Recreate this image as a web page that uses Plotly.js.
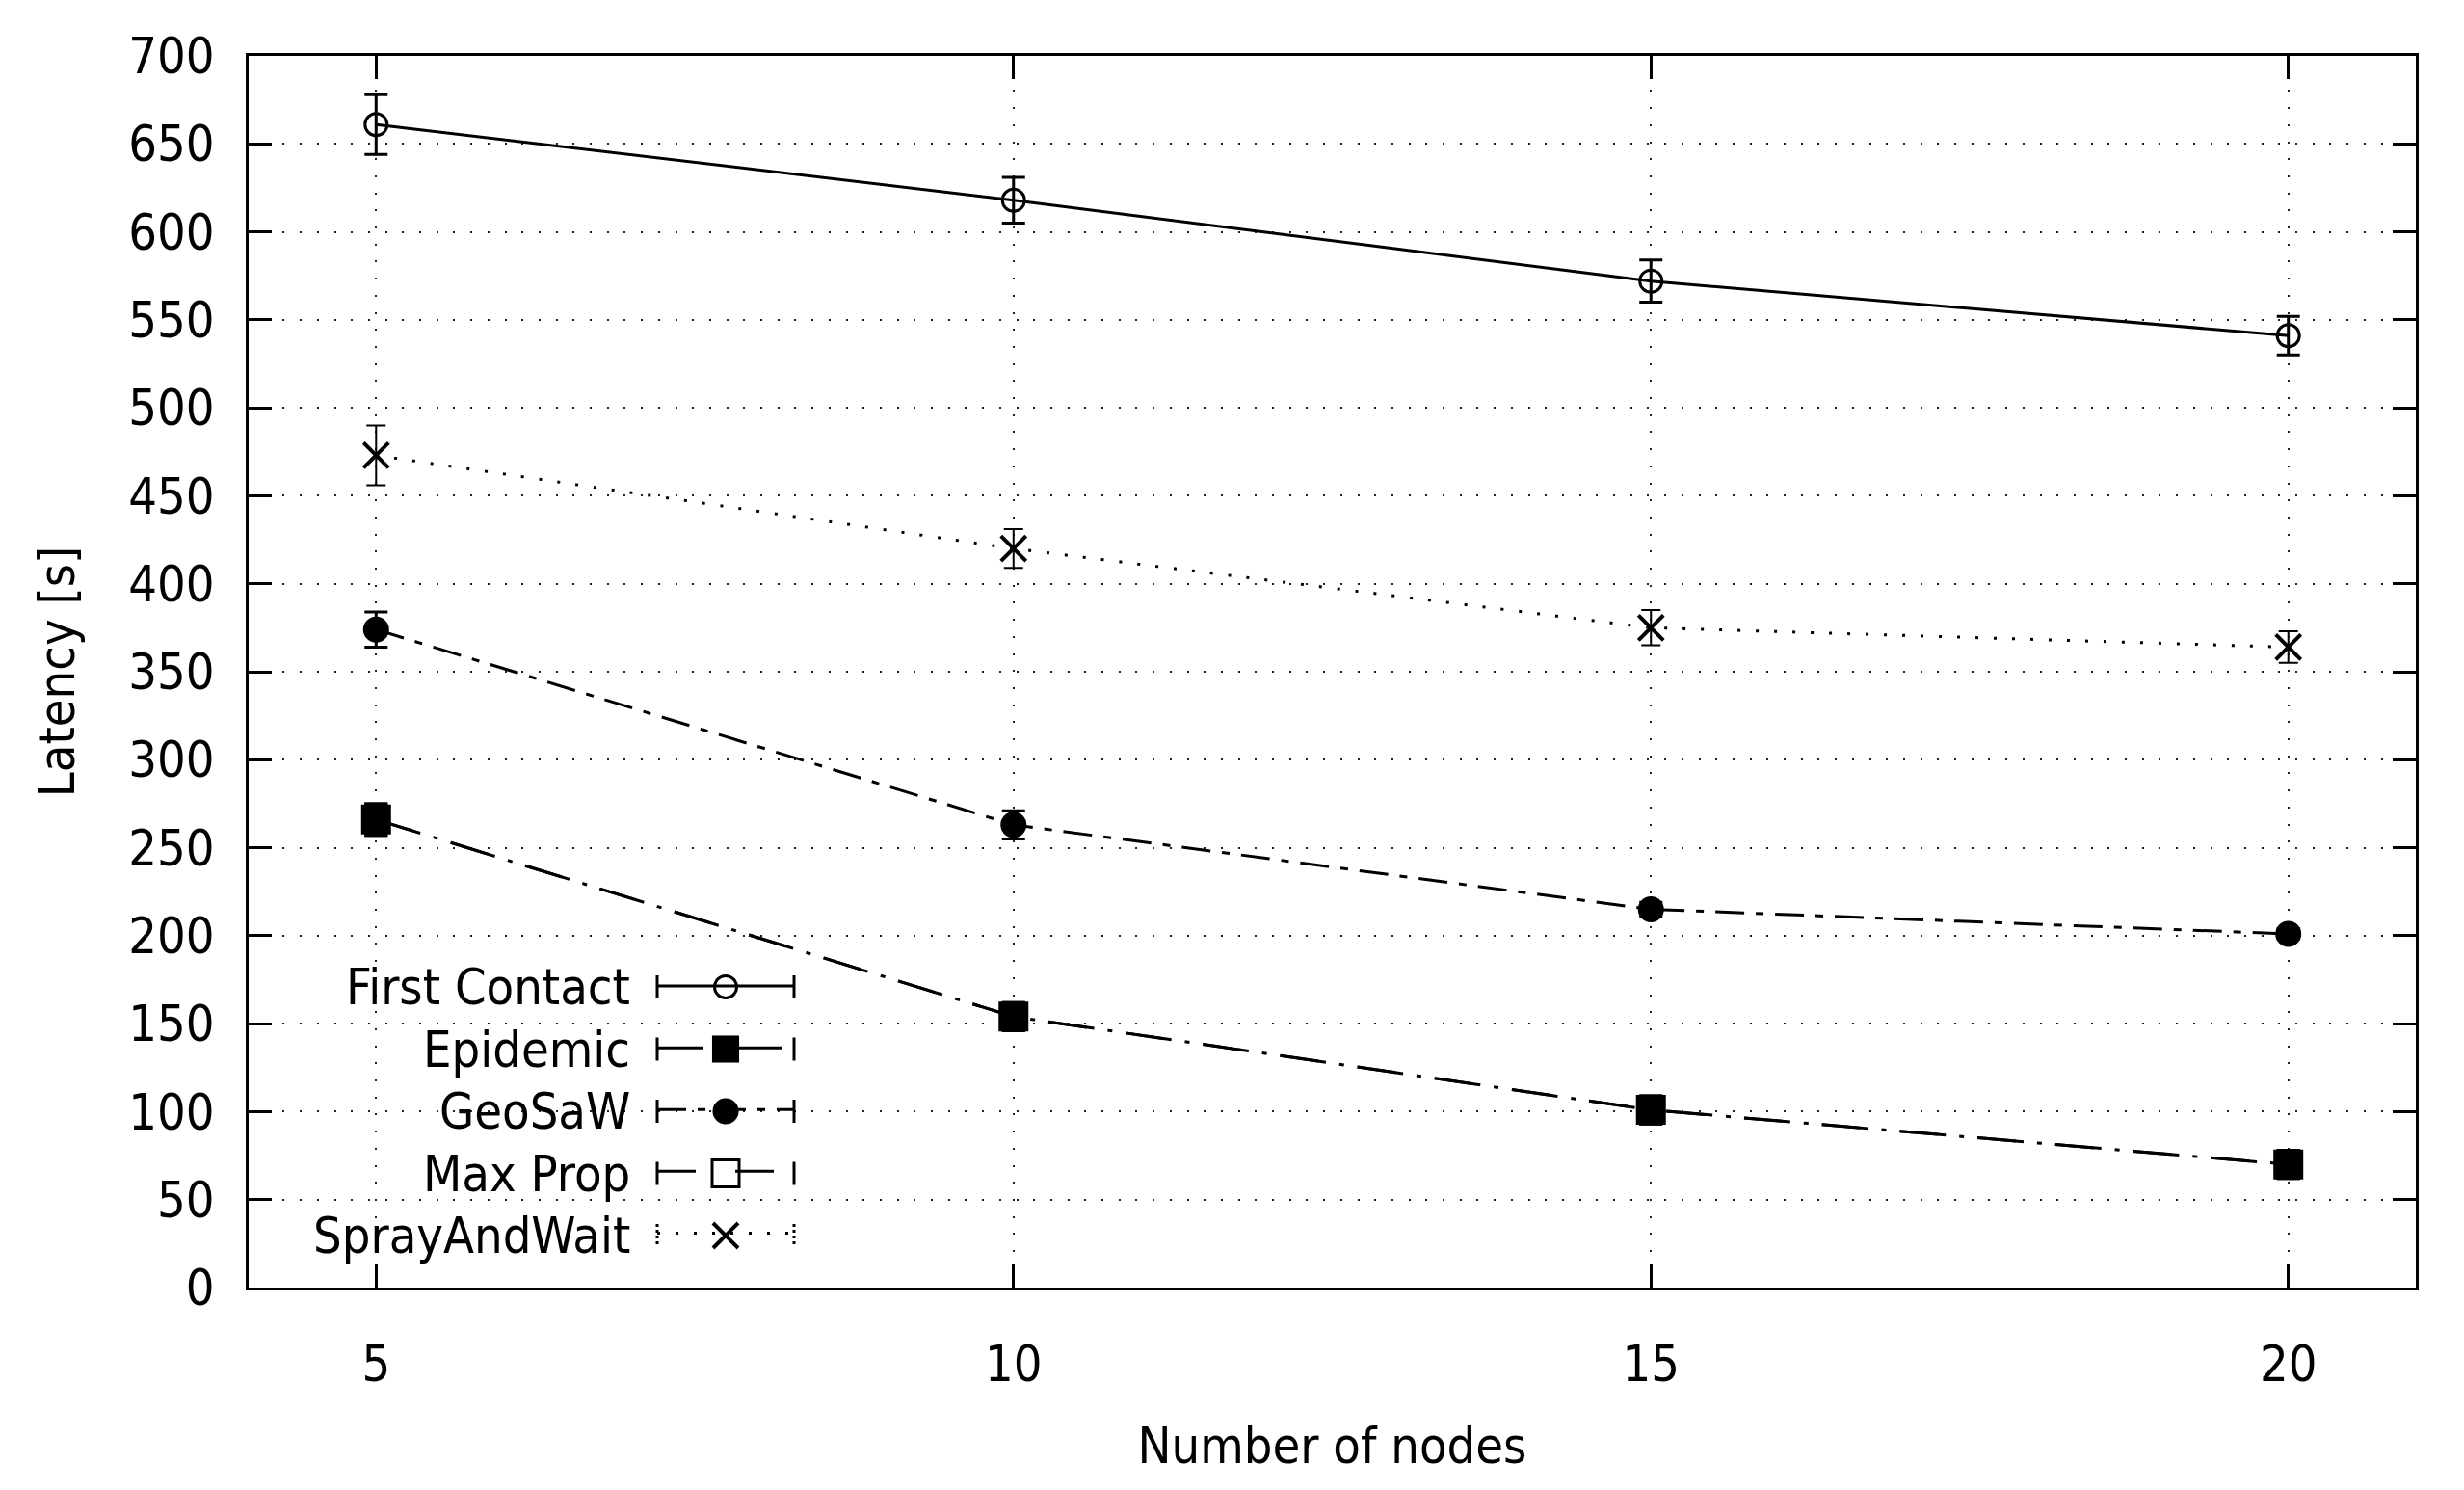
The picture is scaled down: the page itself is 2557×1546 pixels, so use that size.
<!DOCTYPE html>
<html><head><meta charset="utf-8">
<script src="https://cdn.plot.ly/plotly-3.0.1.min.js"></script>
<style>html,body{margin:0;padding:0;background:#fff;}</style>
</head><body>
<div id="chart" style="width:2557px;height:1546px;"></div>
<script>
// ---- data ----
const nodes = [5, 10, 15, 20];
const seriesNames = ['First Contact', 'Epidemic', 'GeoSaW', 'Max Prop', 'SprayAndWait'];
const firstContact = [661, 618, 572, 541];
const firstContactErr = [17, 13, 12, 11];
const epidemic = [266, 154, 101, 70];
const epidemicErr = [9, 8, 8, 8];
const geoSaW = [374, 263, 215, 201];
const geoSaWErr = [10, 8, 4, 3];
const maxProp = [266, 154, 101, 70];
const maxPropErr = [9, 8, 8, 8];
const sprayAndWait = [473, 420, 375, 364];
const sprayAndWaitErr = [17, 11, 10, 9];
const xTickVals = [5, 10, 15, 20];
const yTickVals = [0, 50, 100, 150, 200, 250, 300, 350, 400, 450, 500, 550, 600, 650, 700];
const xTitle = 'Number of nodes';
const yTitle = 'Latency [s]';

// ---- styling ----
const W = 2557, H = 1546;
const M = {l: 258, r: 50, t: 58, b: 210};
const PW = W - M.l - M.r, PH = H - M.t - M.b;
const FONT = '"DejaVu Sans Condensed", "Liberation Sans", sans-serif';
const px2x = px => (px - M.l) / PW;
const py2y = py => (M.t + PH - py) / PH;

const styles = [
  {dash: 'solid', symbol: 'circle-open', size: 23, lw: 3, eth: 3, ew: 12},
  {dash: '48px,14px,5px,14px', symbol: 'square', size: 28, lw: 0, eth: 3, ew: 12},
  {dash: '30px,12px,8px,12px', symbol: 'circle', size: 27, lw: 0, eth: 3, ew: 12},
  {dash: '40px,41px', symbol: 'square-open', size: 28, lw: 3, eth: 3, ew: 12},
  {dash: '3px,16px', symbol: 'x-thin-open', size: 26, lw: 4, eth: 2, ew: 10}
];
const ys = [firstContact, epidemic, geoSaW, maxProp, sprayAndWait];
const errs = [firstContactErr, epidemicErr, geoSaWErr, maxPropErr, sprayAndWaitErr];

const traces = ys.map((y, i) => ({
  x: nodes, y: y, type: 'scatter', mode: 'lines+markers',
  name: seriesNames[i], showlegend: false,
  hovertemplate: seriesNames[i] + ': %{y}<extra></extra>',
  line: {color: '#000', width: 3, dash: styles[i].dash},
  marker: {symbol: styles[i].symbol, size: styles[i].size, color: '#000',
           line: {color: '#000', width: styles[i].lw}},
  error_y: {type: 'data', array: errs[i], visible: true, color: '#000',
            thickness: styles[i].eth, width: styles[i].ew}
}));
// legend-only entries (line samples); key markers drawn full size below
const legendTraces = seriesNames.map((n, i) => ({
  x: [null], y: [null], type: 'scatter', mode: 'lines', name: '',
  showlegend: true, hoverinfo: 'skip',
  line: {color: '#000', width: 3, dash: styles[i].dash}
}));

// legend geometry (key box like gnuplot: text right-aligned, sample to the right)
const rowY0 = 1024, rowStep = 64.5;
const textRight = 656, sampleL = 682, sampleR = 824;
const markX = sampleL - 5 + (sampleR - sampleL + 10) / 2;
const annotations = seriesNames.map((n, i) => ({
  xref: 'paper', yref: 'paper', x: px2x(textRight), y: py2y(rowY0 + i * rowStep),
  xanchor: 'right', yanchor: 'middle', text: n, showarrow: false,
  font: {family: FONT, size: 52, color: '#000'}
}));
const shapes = [{
  type: 'rect', xref: 'paper', yref: 'paper', layer: 'between',
  x0: 0, x1: px2x(850), y0: py2y(1311), y1: py2y(990),
  fillcolor: '#fff', line: {width: 0}
}];
const box = (cx, cy, h) => ({x0: px2x(cx - h), x1: px2x(cx + h), y0: py2y(cy + h), y1: py2y(cy - h)});
seriesNames.forEach((n, i) => {
  const cy = rowY0 + i * rowStep;
  [sampleL, sampleR].forEach(cx => {
    shapes.push({type: 'line', xref: 'paper', yref: 'paper',
      x0: px2x(cx), x1: px2x(cx), y0: py2y(cy - 12), y1: py2y(cy + 12),
      line: {color: '#000', width: 3, dash: i === 4 ? 'dot' : 'solid'}});
  });
  const st = styles[i], h = st.size / 2;
  if (st.symbol === 'circle-open' || st.symbol === 'circle') {
    shapes.push(Object.assign({type: 'circle', xref: 'paper', yref: 'paper', layer: 'above',
      fillcolor: st.symbol === 'circle' ? '#000' : 'rgba(0,0,0,0)',
      line: {color: '#000', width: st.lw || 0.1}}, box(markX, cy, h)));
  } else if (st.symbol === 'square' || st.symbol === 'square-open') {
    shapes.push(Object.assign({type: 'rect', xref: 'paper', yref: 'paper', layer: 'above',
      fillcolor: st.symbol === 'square' ? '#000' : 'rgba(0,0,0,0)',
      line: {color: '#000', width: st.lw || 0.1}}, box(markX, cy, h)));
  } else {
    const b = box(markX, cy, h);
    shapes.push({type: 'line', xref: 'paper', yref: 'paper', layer: 'above',
      x0: b.x0, x1: b.x1, y0: b.y0, y1: b.y1, line: {color: '#000', width: st.lw}});
    shapes.push({type: 'line', xref: 'paper', yref: 'paper', layer: 'above',
      x0: b.x0, x1: b.x1, y0: b.y1, y1: b.y0, line: {color: '#000', width: st.lw}});
  }
});

const axisCommon = {
  showline: true, linecolor: '#000', linewidth: 3, mirror: 'ticks',
  ticks: 'inside', ticklen: 24, tickwidth: 3, tickcolor: '#000',
  showgrid: true, gridcolor: '#222', gridwidth: 2, griddash: '2px,15.7px',
  zeroline: false, tickfont: {family: FONT, size: 52, color: '#000'}
};

const layout = {
  width: W, height: H, margin: M,
  paper_bgcolor: '#fff', plot_bgcolor: '#fff',
  font: {family: FONT, color: '#000'},
  showlegend: true,
  legend: {x: px2x(sampleL - 5), xanchor: 'left', y: py2y(rowY0 - 38), yanchor: 'top',
           itemwidth: sampleR - sampleL, bgcolor: 'rgba(0,0,0,0)', borderwidth: 0,
           font: {family: FONT, size: 47}, traceorder: 'normal'},
  xaxis: Object.assign({}, axisCommon, {
    range: [4, 21], tickmode: 'array', tickvals: xTickVals,
    ticklabelstandoff: 32,
    title: {text: xTitle, font: {family: FONT, size: 52}, standoff: 38}
  }),
  yaxis: Object.assign({}, axisCommon, {
    range: [0, 700], tickmode: 'array', tickvals: yTickVals,
    ticklabelstandoff: 22,
    title: {text: yTitle, font: {family: FONT, size: 52}, standoff: 40}
  }),
  annotations: annotations,
  shapes: shapes
};

Plotly.newPlot('chart', traces.concat(legendTraces), layout, {displayModeBar: false, staticPlot: true});
</script>
</body></html>
